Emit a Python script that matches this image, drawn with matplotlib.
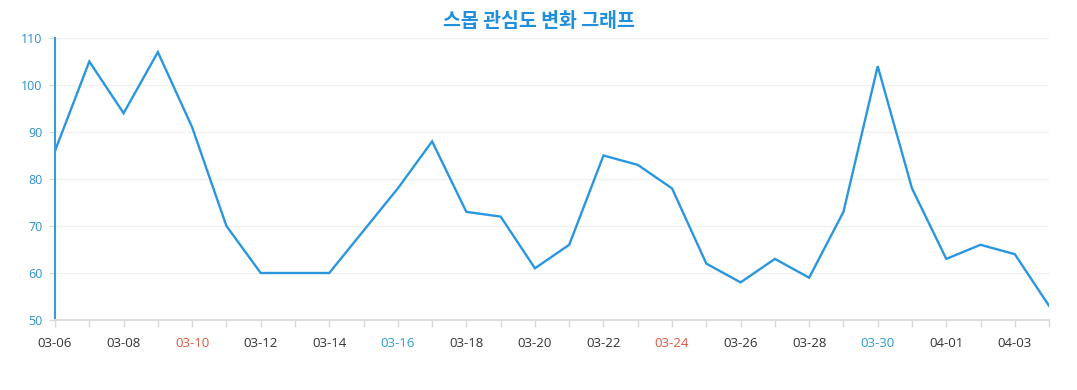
import matplotlib.pyplot as plt
import numpy as np

plt.rcParams['font.family'] = ['Open Sans', 'Noto Sans CJK KR', 'DejaVu Sans']

# 날짜 (03-06 ~ 04-04)
dates = ['03-06', '03-07', '03-08', '03-09', '03-10', '03-11', '03-12', '03-13',
         '03-14', '03-15', '03-16', '03-17', '03-18', '03-19', '03-20', '03-21',
         '03-22', '03-23', '03-24', '03-25', '03-26', '03-27', '03-28', '03-29',
         '03-30', '03-31', '04-01', '04-02', '04-03', '04-04']
interest = [86, 105, 94, 107, 91, 70, 60, 60, 60, 69, 78, 88, 73, 72, 61, 66,
            85, 83, 78, 62, 58, 63, 59, 73, 104, 78, 63, 66, 64, 53]
red_labels = ['03-10', '03-24']
blue_labels = ['03-16', '03-30']

line_color = '#2b96e0'
x = np.arange(len(dates))

fig = plt.figure(figsize=(10.77, 3.9), dpi=100)
ax = fig.add_axes([0.0511, 0.1795, 0.923, 0.7231])
ax.plot(x, interest, color=line_color, lw=1.7, solid_joinstyle='miter')

ax.set_xlim(0, len(dates) - 1)
ax.set_ylim(50, 110)
ax.set_yticks(range(50, 111, 10))
ax.grid(axis='y', color='#f0f0f0', lw=1)
ax.set_axisbelow(True)

ax.set_xticks(x, minor=True)
ax.set_xticks(x[::2])
ax.set_xticklabels(dates[::2])
ax.tick_params(axis='x', which='both', length=5, color='#d8d8d8', width=1,
               labelsize=9.5, labelcolor='#333333', pad=7)
ax.tick_params(axis='y', length=4, color='#d8d8d8', labelsize=9,
               labelcolor='#2f8fcf', pad=5)
for lab in ax.get_xticklabels():
    if lab.get_text() in red_labels:
        lab.set_color('#e0583a')
    elif lab.get_text() in blue_labels:
        lab.set_color('#2f9bd5')

for s in ['top', 'right']:
    ax.spines[s].set_visible(False)
ax.spines['bottom'].set_color('#dcdcdc')
ax.spines['bottom'].set_linewidth(1.5)
ax.spines['left'].set_color('#3a9ad8')
ax.spines['left'].set_linewidth(1.5)

fig.suptitle('스몹 관심도 변화 그래프', x=0.5, y=0.968, fontsize=14,
             fontweight='bold', color='#1f8fe0', family='Noto Sans CJK KR')

fig.savefig('out.png', dpi=100, facecolor='white')
